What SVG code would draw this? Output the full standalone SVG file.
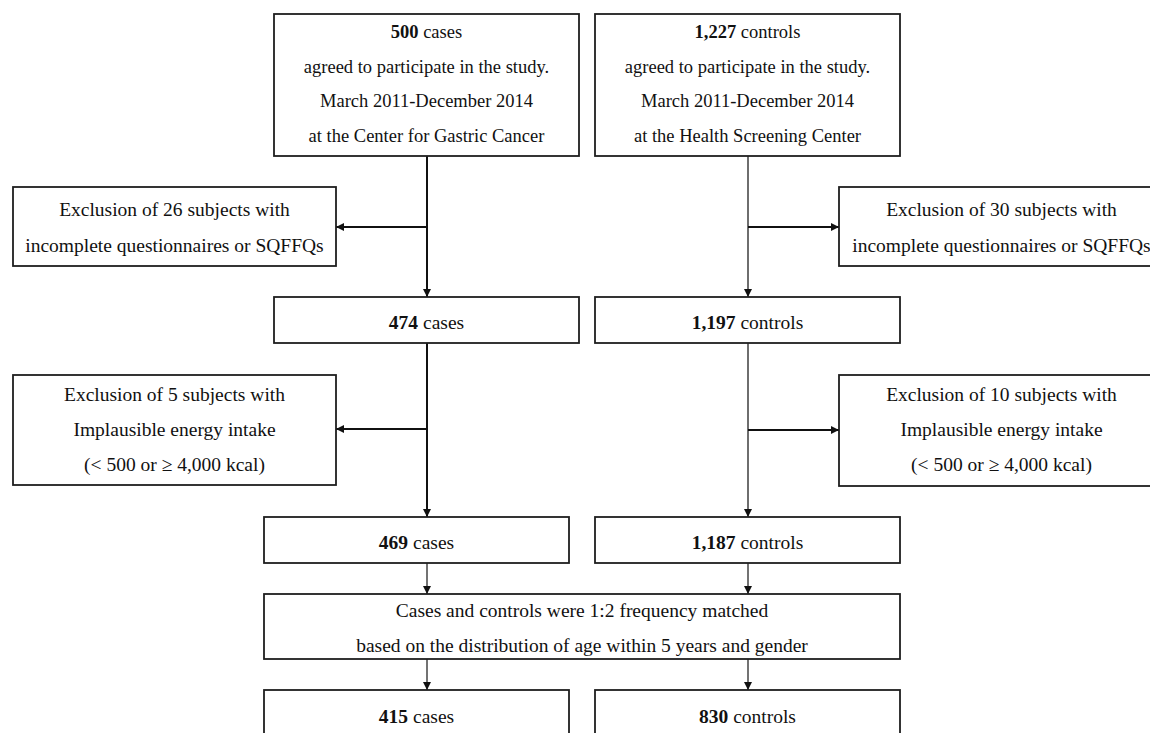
<svg xmlns="http://www.w3.org/2000/svg" width="1150" height="733" viewBox="0 0 1150 733">
<defs>
<style>
.box{fill:#fff;stroke:#1e1e1e;stroke-width:1.8}
.t{font-family:"Liberation Serif","Times New Roman",serif;font-size:19.5px;fill:#111;text-anchor:middle}
.tt{font-family:"Liberation Serif","Times New Roman",serif;font-size:18.5px;fill:#111;text-anchor:middle}
.b{font-weight:bold}
.cl{fill:none;stroke:#111;stroke-width:2}
.cr{fill:none;stroke:#6e6e6e;stroke-width:2}
.cs{fill:none;stroke:#444;stroke-width:1.5}
</style>
<marker id="ah" viewBox="0 0 10 10" refX="10" refY="5" markerWidth="8" markerHeight="8" markerUnits="userSpaceOnUse" orient="auto">
<path d="M0,0 L10,5 L0,10 Z" fill="#111"/>
</marker>
</defs>
<rect width="1150" height="733" fill="#fff"/>
<g id="connectors">
<path class="cl" d="M427,156 V297" marker-end="url(#ah)"/>
<path class="cl" d="M427,227 H336" marker-end="url(#ah)"/>
<path class="cl" d="M427,343 V517" marker-end="url(#ah)"/>
<path class="cl" d="M427,429 H336" marker-end="url(#ah)"/>
<path class="cr" d="M748,156 V297" marker-end="url(#ah)"/>
<path class="cl" d="M748,227 H839" marker-end="url(#ah)"/>
<path class="cr" d="M748,343 V517" marker-end="url(#ah)"/>
<path class="cl" d="M748,430 H839" marker-end="url(#ah)"/>
<path class="cs" d="M427,563 V594" marker-end="url(#ah)"/>
<path class="cs" d="M748,563 V594" marker-end="url(#ah)"/>
<path class="cs" d="M427,659 V690" marker-end="url(#ah)"/>
<path class="cs" d="M748,659 V690" marker-end="url(#ah)"/>
</g>
<g id="cases-500">
<rect class="box" x="274" y="14" width="305" height="142"/>
<text class="tt" x="426.5" y="38"><tspan class="b">500</tspan> cases</text>
<text class="tt" x="426.5" y="73">agreed to participate in the study.</text>
<text class="tt" x="426.5" y="107">March 2011-December 2014</text>
<text class="tt" x="426.5" y="142">at the Center for Gastric Cancer</text>
</g>
<g id="controls-1227">
<rect class="box" x="595" y="14" width="305" height="142"/>
<text class="tt" x="747.5" y="38"><tspan class="b">1,227</tspan> controls</text>
<text class="tt" x="747.5" y="73">agreed to participate in the study.</text>
<text class="tt" x="747.5" y="107">March 2011-December 2014</text>
<text class="tt" x="747.5" y="142">at the Health Screening Center</text>
</g>
<g id="excl-26">
<rect class="box" x="13" y="187" width="323" height="79"/>
<text class="t" x="174.5" y="216">Exclusion of 26 subjects with</text>
<text class="t" x="174.5" y="252">incomplete questionnaires or SQFFQs</text>
</g>
<g id="excl-30">
<rect class="box" x="839" y="187" width="325" height="79"/>
<text class="t" x="1001.5" y="216">Exclusion of 30 subjects with</text>
<text class="t" x="1001.5" y="252">incomplete questionnaires or SQFFQs</text>
</g>
<g id="cases-474">
<rect class="box" x="274" y="297" width="305" height="46"/>
<text class="t" x="426.5" y="329"><tspan class="b">474</tspan> cases</text>
</g>
<g id="controls-1197">
<rect class="box" x="595" y="297" width="305" height="46"/>
<text class="t" x="747.5" y="329"><tspan class="b">1,197</tspan> controls</text>
</g>
<g id="excl-5">
<rect class="box" x="13" y="375" width="323" height="110"/>
<text class="t" x="174.5" y="401">Exclusion of 5 subjects with</text>
<text class="t" x="174.5" y="436">Implausible energy intake</text>
<text class="t" x="174.5" y="471">(&lt; 500 or ≥ 4,000 kcal)</text>
</g>
<g id="excl-10">
<rect class="box" x="839" y="375" width="325" height="111"/>
<text class="t" x="1001.5" y="401">Exclusion of 10 subjects with</text>
<text class="t" x="1001.5" y="436">Implausible energy intake</text>
<text class="t" x="1001.5" y="471">(&lt; 500 or ≥ 4,000 kcal)</text>
</g>
<g id="cases-469">
<rect class="box" x="264" y="517" width="305" height="46"/>
<text class="t" x="416.5" y="549"><tspan class="b">469</tspan> cases</text>
</g>
<g id="controls-1187">
<rect class="box" x="595" y="517" width="305" height="46"/>
<text class="t" x="747.5" y="549"><tspan class="b">1,187</tspan> controls</text>
</g>
<g id="matching">
<rect class="box" x="264" y="594" width="636" height="65"/>
<text class="t" x="582" y="617">Cases and controls were 1:2 frequency matched</text>
<text class="t" x="582" y="652">based on the distribution of age within 5 years and gender</text>
</g>
<g id="cases-415">
<rect class="box" x="264" y="690" width="305" height="60"/>
<text class="t" x="416.5" y="723"><tspan class="b">415</tspan> cases</text>
</g>
<g id="controls-830">
<rect class="box" x="595" y="690" width="305" height="60"/>
<text class="t" x="747.5" y="723"><tspan class="b">830</tspan> controls</text>
</g>
</svg>
